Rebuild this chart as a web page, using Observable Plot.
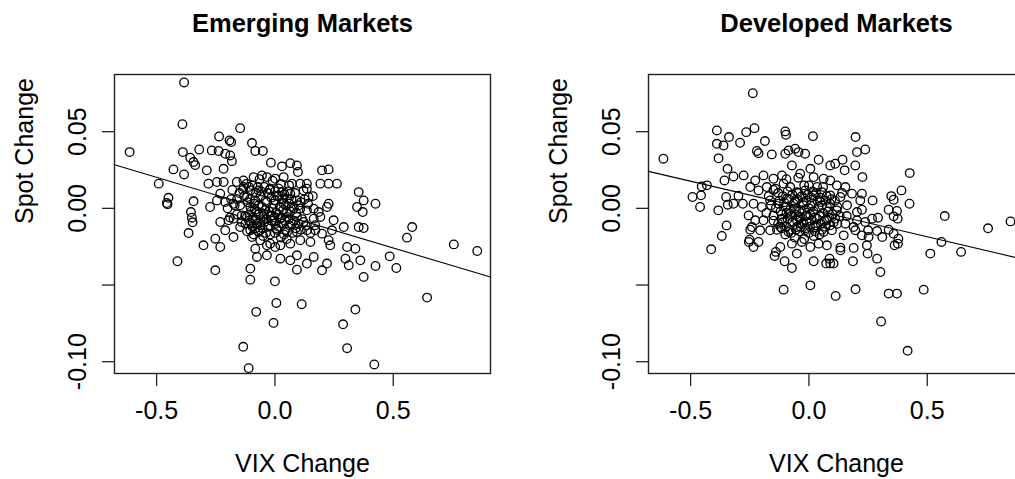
<!DOCTYPE html>
<html>
<head>
<meta charset="utf-8">
<script src="https://cdn.jsdelivr.net/npm/d3@7"></script>
<script src="https://cdn.jsdelivr.net/npm/@observablehq/plot@0.6"></script>
<style>
  html, body { margin: 0; padding: 0; background: #fff; overflow: hidden; }
  #panels { display: flex; width: 1068px; }
  #panels svg { flex: none; }
</style>
</head>
<body>
<div id="panels"></div>
<script>
// Axis settings shared by both panels
const xDomain = [-0.678, 0.911];
const yDomain = [-0.1077, 0.0873];
const xTicks = [-0.5, 0, 0.5];
const yTicks = [0.05, 0, -0.05, -0.10];
const yTickLabels = [0.05, 0, -0.10];
const titles = ["Emerging Markets", "Developed Markets"];
const xLabel = "VIX Change";
const yLabel = "Spot Change";

// Least-squares fit lines (spot change on VIX change)
const emergingFit = {intercept: -0.0028, slope: -0.0461};
const developedFit = {intercept: -0.0004, slope: -0.0362};

// [VIX change, spot change] — emerging-market currencies
const emergingPoints = [
  [-0.384,0.0821],[-0.391,0.0549],[-0.614,0.0367],[-0.389,0.0367],[-0.147,0.0523],[-0.320,0.0384],
  [-0.358,0.0330],[-0.344,0.0302],[-0.337,0.0282],[-0.429,0.0254],[-0.384,0.0221],[-0.491,0.0161],
  [-0.450,0.0069],[-0.457,0.0035],[-0.454,0.0026],[-0.344,0.0046],[-0.355,-0.0024],[-0.351,-0.0061],
  [-0.348,-0.0091],[-0.365,-0.0161],[-0.412,-0.0345],[0.425,0.0030],[0.580,-0.0122],[0.558,-0.0191],
  [0.756,-0.0235],[0.855,-0.0278],[0.485,-0.0313],[0.513,-0.0389],[0.425,-0.0376],[0.643,-0.0582],
  [0.113,-0.0625],[0.006,-0.0617],[-0.006,-0.0747],[0.000,-0.0476],[-0.079,-0.0675],[-0.134,-0.0903],
  [-0.111,-0.1042],[-0.104,-0.0465],[0.340,-0.0660],[0.288,-0.0756],[0.305,-0.0912],[0.420,-0.1018],
  [-0.236,0.0469],[-0.192,0.0443],[-0.185,0.0432],[-0.097,0.0426],[-0.267,0.0378],[-0.238,0.0374],
  [-0.210,0.0356],[-0.189,0.0345],[-0.083,0.0374],[-0.051,0.0374],[-0.182,0.0308],[-0.017,0.0298],
  [0.030,0.0274],[0.065,0.0295],[0.093,0.0280],[0.097,0.0237],[0.199,0.0248],[0.227,0.0254],
  [-0.288,0.0248],[-0.217,0.0258],[-0.281,0.0161],[-0.245,0.0172],[-0.217,0.0172],[-0.161,0.0172],
  [-0.133,0.0182],[-0.090,0.0204],[-0.055,0.0215],[-0.034,0.0204],[0.001,0.0193],[0.037,0.0204],
  [0.072,0.0161],[0.107,0.0161],[0.135,0.0161],[0.192,0.0161],[0.227,0.0161],[0.262,0.0161],
  [0.354,0.0106],[0.375,0.0052],[0.347,0.0009],[0.371,-0.0024],[-0.231,0.0096],[-0.133,0.0139],
  [-0.104,0.0117],[-0.069,0.0117],[-0.020,0.0128],[0.030,0.0106],[0.065,0.0096],[0.121,0.0117],
  [0.135,0.0128],[0.142,0.0074],[0.227,0.0030],[0.220,0.0009],[0.164,-0.0002],[0.185,-0.0024],
  [-0.245,0.0052],[-0.210,0.0041],[-0.175,0.0030],[-0.147,0.0020],[-0.104,0.0009],[-0.069,0.0020],
  [-0.034,0.0041],[0.001,0.0052],[0.037,0.0030],[0.072,0.0009],[0.107,-0.0002],[0.135,-0.0013],
  [-0.274,0.0009],[-0.118,0.0074],[-0.083,0.0052],[0.016,0.0085],[0.051,0.0063],[0.093,0.0052],
  [-0.231,-0.0089],[-0.196,-0.0078],[-0.175,-0.0067],[-0.140,-0.0046],[-0.118,-0.0056],[-0.083,-0.0078],
  [-0.048,-0.0035],[-0.013,-0.0046],[0.023,-0.0067],[0.051,-0.0056],[0.093,-0.0056],[0.121,-0.0089],
  [0.164,-0.0067],[0.192,-0.0056],[0.248,-0.0078],[0.291,-0.0122],[0.241,-0.0143],[0.354,-0.0122],
  [0.375,-0.0128],[-0.210,-0.0143],[-0.175,-0.0187],[-0.147,-0.0122],[-0.104,-0.0143],[-0.062,-0.0143],
  [-0.027,-0.0111],[0.008,-0.0132],[0.051,-0.0154],[0.093,-0.0154],[0.135,-0.0143],[0.171,-0.0143],
  [0.199,-0.0165],[0.227,-0.0208],[0.234,-0.0241],[-0.302,-0.0241],[-0.252,-0.0198],[-0.231,-0.0252],
  [-0.097,-0.0187],[-0.062,-0.0208],[-0.020,-0.0230],[0.023,-0.0241],[0.065,-0.0230],[0.107,-0.0208],
  [0.150,-0.0219],[-0.083,-0.0263],[-0.034,-0.0241],[0.001,-0.0252],[-0.076,-0.0317],[-0.034,-0.0306],
  [0.023,-0.0328],[0.065,-0.0339],[0.093,-0.0306],[0.135,-0.0360],[0.164,-0.0317],[0.220,-0.0360],
  [0.305,-0.0252],[0.340,-0.0263],[0.298,-0.0328],[0.312,-0.0371],[0.361,-0.0339],[-0.252,-0.0404],
  [-0.104,-0.0393],[0.093,-0.0400],[0.199,-0.0404],[0.375,-0.0447],
  [-0.120,0.0160],[-0.110,0.0140],[-0.095,0.0150],[-0.080,0.0100],[-0.060,0.0080],[-0.045,0.0140],
  [-0.030,0.0100],[-0.015,0.0070],[0.000,0.0110],[0.015,0.0130],[0.030,0.0060],[0.045,0.0020],
  [0.060,0.0030],[0.080,0.0000],[0.090,-0.0030],[0.110,0.0040],[0.125,0.0060],[0.140,0.0030],
  [-0.130,0.0080],[-0.115,0.0040],[-0.100,-0.0020],[-0.085,-0.0010],[-0.070,-0.0040],[-0.055,0.0010],
  [-0.040,-0.0010],[-0.025,-0.0020],[-0.010,0.0000],[0.005,-0.0030],[0.020,0.0010],[0.035,-0.0010],
  [0.050,-0.0030],[0.065,-0.0020],[0.080,-0.0080],[0.100,-0.0100],[0.115,-0.0070],[0.130,-0.0110],
  [-0.140,-0.0090],[-0.125,-0.0100],[-0.110,-0.0080],[-0.095,-0.0120],[-0.075,-0.0100],[-0.060,-0.0070],
  [-0.045,-0.0090],[-0.030,-0.0120],[-0.015,-0.0080],[0.000,-0.0100],[0.015,-0.0120],[0.030,-0.0100],
  [0.045,-0.0140],[0.060,-0.0110],[0.075,-0.0160],[-0.090,-0.0170],[-0.070,-0.0150],[-0.050,-0.0180],
  [-0.020,-0.0170],[0.000,-0.0160],[0.025,-0.0190],[0.050,-0.0200],[-0.160,0.0060],[-0.180,0.0120],
  [-0.200,0.0000],[-0.190,-0.0060],[-0.160,-0.0040],[-0.150,0.0100],[0.160,0.0080],[0.170,-0.0110],
  [0.150,-0.0160],[-0.010,0.0180],[0.060,0.0150],[-0.065,0.0190],
  [-0.135,0.0120],[-0.105,0.0060],[-0.088,0.0030],[-0.072,0.0140],[-0.058,0.0110],[-0.040,0.0050],
  [-0.022,0.0120],[-0.005,0.0030],[0.010,0.0080],[0.025,0.0160],[0.040,0.0090],[0.055,0.0110],
  [0.070,0.0060],[0.085,0.0100],[0.100,0.0020],[-0.125,-0.0050],[-0.108,-0.0040],[-0.092,-0.0060],
  [-0.078,-0.0020],[-0.062,-0.0110],[-0.048,-0.0050],[-0.035,-0.0070],[-0.018,-0.0050],[-0.003,-0.0060],
  [0.012,-0.0040],[0.028,-0.0060],[0.042,-0.0080],[0.058,-0.0070],[0.072,-0.0100],[0.088,-0.0130],
  [-0.118,-0.0150],[-0.100,-0.0100],[-0.082,-0.0130],[-0.052,-0.0130],[-0.038,-0.0160],[0.008,-0.0140],
  [0.038,-0.0170],[0.110,-0.0140],[-0.170,0.0020],[-0.185,0.0060]
];

// [VIX change, spot change] — developed-market currencies
const developedPoints = [
  [-0.237,0.0751],[-0.615,0.0324],[-0.389,0.0508],[-0.230,0.0523],[-0.265,0.0497],[-0.338,0.0465],
  [-0.389,0.0421],[-0.361,0.0410],[-0.291,0.0428],[-0.186,0.0439],[-0.382,0.0326],[-0.220,0.0374],
  [-0.213,0.0360],[-0.157,0.0352],[-0.344,0.0258],[-0.319,0.0208],[-0.357,0.0182],[-0.276,0.0215],
  [-0.453,0.0143],[-0.431,0.0150],[-0.492,0.0074],[-0.456,0.0085],[-0.460,0.0009],[-0.350,0.0074],
  [-0.343,0.0024],[-0.383,-0.0013],[-0.298,0.0083],[-0.279,0.0030],[-0.348,-0.0111],[-0.368,-0.0180],
  [-0.413,-0.0267],[-0.248,-0.0139],[-0.251,-0.0204],[-0.254,-0.0219],[-0.234,-0.0252],[-0.213,-0.0219],
  [-0.107,-0.0530],[0.006,-0.0502],[0.113,-0.0571],[0.197,-0.0528],[0.337,-0.0556],[0.372,-0.0556],
  [0.485,-0.0530],[0.305,-0.0738],[0.417,-0.0929],[0.426,0.0230],[0.425,0.0030],[0.391,0.0117],
  [0.574,-0.0050],[0.757,-0.0130],[0.852,-0.0085],[0.560,-0.0219],[0.513,-0.0295],[0.643,-0.0284],
  [0.197,0.0465],[0.238,0.0384],[0.203,0.0367],[0.017,0.0471],[-0.100,0.0502],[-0.097,0.0480],
  [0.196,0.0280],[0.226,0.0204],[0.142,0.0317],[0.151,0.0248],[0.269,0.0052],[0.348,0.0080],
  [0.358,0.0056],[0.337,-0.0009],[0.372,-0.0017],[0.358,-0.0052],[0.375,-0.0067],[0.292,-0.0061],
  [0.288,-0.0148],[0.310,-0.0187],[0.337,-0.0139],[0.358,-0.0165],[0.378,-0.0198],[0.362,-0.0241],
  [0.376,-0.0230],[0.245,-0.0241],[0.248,-0.0295],[0.288,-0.0328],[0.302,-0.0415],[0.186,-0.0345],
  [0.189,-0.0258],[0.133,-0.0256],[0.133,-0.0274],[0.073,-0.0360],[0.090,-0.0360],[0.104,-0.0360],
  [0.087,-0.0328],[0.020,-0.0345],[-0.072,-0.0389],[-0.103,-0.0345],[-0.145,-0.0311],[-0.140,-0.0284],
  [0.224,-0.0009],[0.217,0.0052],[0.267,-0.0067],[0.238,-0.0089],[0.250,-0.0143],[0.196,-0.0143],
  [0.203,-0.0078],
  [-0.100,0.0356],[-0.086,0.0378],[-0.058,0.0389],[-0.044,0.0367],[-0.016,0.0356],[0.041,0.0317],
  [0.090,0.0280],[0.111,0.0291],[-0.227,0.0182],[-0.192,0.0215],[-0.150,0.0193],[-0.114,0.0215],
  [-0.072,0.0280],[-0.037,0.0226],[0.006,0.0258],[0.020,0.0204],[0.062,0.0193],[0.090,0.0182],
  [0.118,0.0150],[0.154,0.0139],[-0.248,0.0139],[-0.213,0.0117],[-0.178,0.0139],[-0.142,0.0128],
  [-0.107,0.0161],[-0.079,0.0139],[-0.051,0.0106],[-0.016,0.0117],[0.020,0.0085],[0.055,0.0106],
  [0.090,0.0085],[0.133,0.0074],[0.182,0.0096],[0.224,0.0096],[-0.319,0.0030],[-0.234,0.0030],
  [-0.199,0.0009],[-0.164,0.0052],[-0.128,0.0030],[-0.093,0.0063],[-0.058,0.0041],[-0.023,0.0020],
  [0.013,0.0030],[0.048,0.0041],[0.076,0.0009],[0.118,-0.0013],[0.161,0.0020],[0.203,-0.0024],
  [-0.255,-0.0046],[-0.227,-0.0078],[-0.192,-0.0078],[-0.150,-0.0046],[-0.114,-0.0067],[-0.079,-0.0035],
  [-0.044,-0.0056],[-0.008,-0.0046],[0.034,-0.0067],[0.076,-0.0078],[0.111,-0.0067],[0.154,-0.0100],
  [0.189,-0.0122],[-0.241,-0.0122],[-0.206,-0.0143],[-0.164,-0.0143],[-0.121,-0.0122],[-0.086,-0.0154],
  [-0.051,-0.0122],[-0.016,-0.0143],[0.027,-0.0122],[0.062,-0.0154],[0.097,-0.0143],[0.147,-0.0176],
  [0.224,-0.0176],[0.252,-0.0187],[-0.121,-0.0252],[-0.072,-0.0230],[-0.030,-0.0219],[0.006,-0.0252],
  [0.041,-0.0230],[0.076,-0.0241],[-0.051,-0.0295],
  [-0.130,0.0100],[-0.110,0.0080],[-0.090,0.0110],[-0.070,0.0090],[-0.050,0.0060],[-0.030,0.0080],
  [-0.010,0.0050],[0.010,0.0070],[0.030,0.0100],[0.050,0.0070],[0.070,0.0050],[0.090,0.0030],
  [0.110,0.0050],[-0.140,0.0000],[-0.120,-0.0020],[-0.100,0.0010],[-0.080,-0.0010],[-0.060,0.0000],
  [-0.040,-0.0020],[-0.020,-0.0010],[0.000,0.0000],[0.020,-0.0020],[0.040,0.0010],[0.060,-0.0030],
  [0.080,-0.0020],[0.100,-0.0040],[0.130,-0.0050],[-0.150,-0.0080],[-0.130,-0.0100],[-0.110,-0.0090],
  [-0.090,-0.0070],[-0.070,-0.0090],[-0.050,-0.0080],[-0.030,-0.0100],[-0.010,-0.0090],[0.010,-0.0080],
  [0.030,-0.0110],[0.050,-0.0100],[0.070,-0.0120],[0.090,-0.0110],[-0.100,-0.0170],[-0.080,-0.0140],
  [-0.060,-0.0190],[-0.040,-0.0150],[-0.020,-0.0200],[0.000,-0.0160],[0.020,-0.0180],[0.045,-0.0170],
  [-0.170,0.0080],[-0.180,-0.0030],[0.140,0.0100],[0.160,-0.0050],[-0.045,0.0200],[0.000,0.0150],
  [0.035,0.0140],[-0.095,0.0190],
  [-0.125,0.0050],[-0.105,0.0040],[-0.085,0.0060],[-0.065,0.0030],[-0.045,0.0100],[-0.025,0.0040],
  [-0.005,0.0090],[0.015,0.0110],[0.035,0.0050],[0.055,0.0020],[0.075,0.0080],[0.095,0.0060],
  [-0.115,-0.0040],[-0.095,-0.0030],[-0.075,-0.0050],[-0.055,-0.0040],[-0.035,-0.0060],[-0.015,-0.0050],
  [0.005,-0.0040],[0.025,-0.0060],[0.045,-0.0050],[0.065,-0.0080],[0.085,-0.0060],[0.105,-0.0090],
  [-0.135,-0.0140],[-0.115,-0.0130],[-0.095,-0.0120],[-0.075,-0.0160],[-0.055,-0.0140],[-0.035,-0.0120],
  [-0.015,-0.0130],[0.005,-0.0120],[0.025,-0.0150],[0.055,-0.0140],[-0.160,0.0020],[-0.150,0.0120],
  [0.120,0.0010],[0.120,-0.0100],[-0.020,0.0150],[0.060,0.0140]
];

const font = "'Liberation Sans', Arial, Helvetica, sans-serif";

function panel(title, points, fit) {
  // abline: the fitted line spans the full x range of the plot box
  const fitLine = xDomain.map(x => ({x, y: fit.intercept + fit.slope * x}));
  return Plot.plot({
    width: 534,
    height: 479,
    marginTop: 74,
    marginRight: 44,
    marginBottom: 106,
    marginLeft: 114,
    style: {fontFamily: font, color: "#000", background: "#fff", overflow: "visible"},
    x: {domain: xDomain},
    y: {domain: yDomain},
    marks: [
      Plot.axisX({
        ticks: xTicks, tickSize: 13, tickPadding: 15, tickFormat: d => d.toFixed(1),
        fontSize: 25, label: null, stroke: "#222", strokeWidth: 1.3
      }),
      Plot.axisY({
        ticks: yTicks, tickSize: 12, tickPadding: 17, tickRotate: -90,
        tickFormat: d => yTickLabels.includes(d) ? d.toFixed(2) : "",
        fontSize: 25, label: null, stroke: "#222", strokeWidth: 1.3
      }),
      Plot.frame({stroke: "#222", strokeWidth: 1.4}),
      Plot.dot(points, {x: d => d[0], y: d => d[1], r: 4.3, stroke: "#000", strokeWidth: 1.3, fill: "none"}),
      Plot.line(fitLine, {x: "x", y: "y", stroke: "#000", strokeWidth: 1.1}),
      Plot.text([title], {text: d => d, frameAnchor: "top", dy: -51, lineAnchor: "middle", fontSize: 25.5, fontWeight: "bold"}),
      Plot.text([xLabel], {text: d => d, frameAnchor: "bottom", dy: 90, lineAnchor: "middle", fontSize: 25}),
      Plot.text([yLabel], {text: d => d, frameAnchor: "left", dx: -90, rotate: -90, lineAnchor: "middle", fontSize: 25})
    ]
  });
}

const container = document.getElementById("panels");
container.append(panel(titles[0], emergingPoints, emergingFit));
container.append(panel(titles[1], developedPoints, developedFit));
</script>
</body>
</html>
